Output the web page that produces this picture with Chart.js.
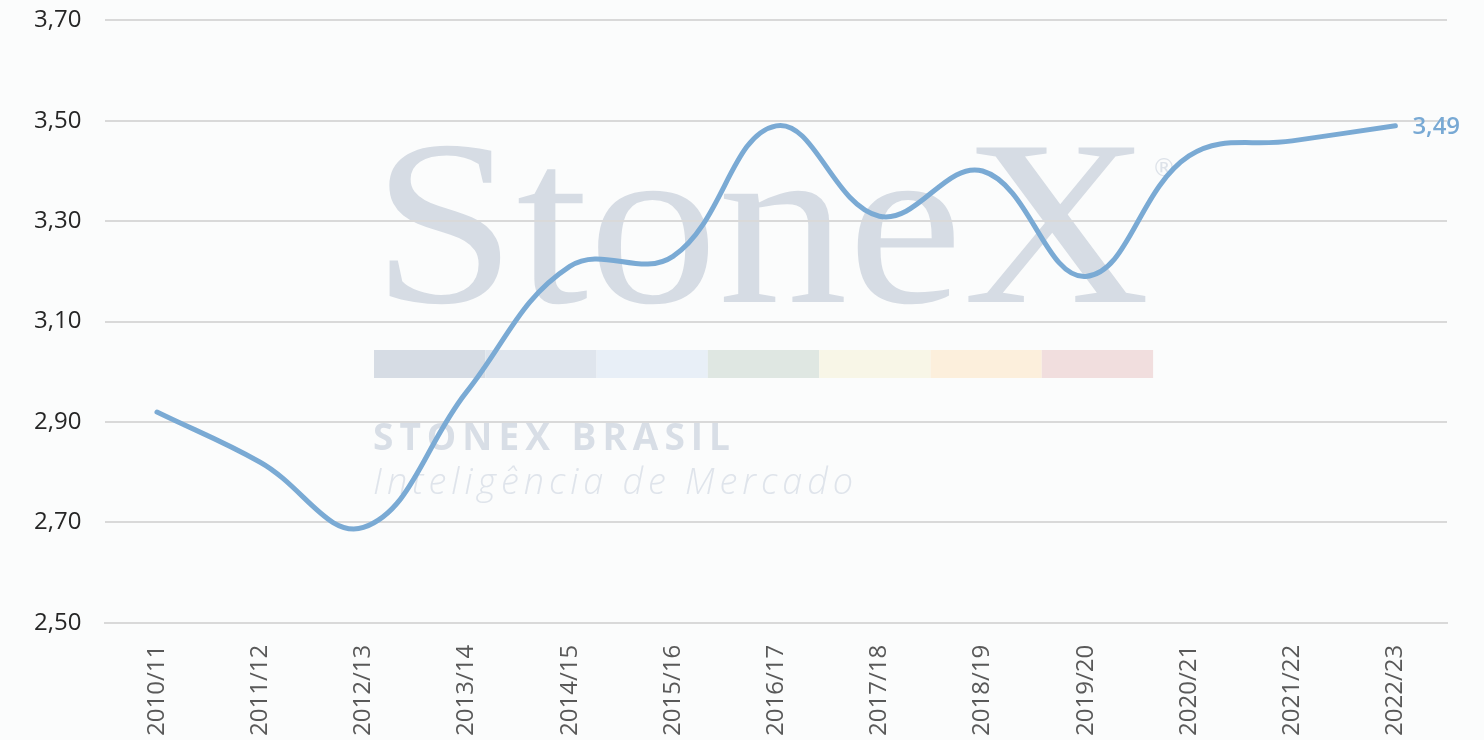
<!DOCTYPE html>
<html>
<head>
<meta charset="utf-8">
<script src="https://cdn.jsdelivr.net/npm/chart.js@4"></script>
<style>
  html, body { margin: 0; padding: 0; background: #fbfcfc; overflow: hidden; }
  #frame { width: 1484px; height: 740px; overflow: hidden; }
  #wrap { width: 1484px; height: 758px; margin-top: -18px; }
</style>
</head>
<body>
<div id="frame"><div id="wrap"><canvas id="chart"></canvas></div></div>
<script>
const safras = ['2010/11', '2011/12', '2012/13', '2013/14', '2014/15', '2015/16', '2016/17',
  '2017/18', '2018/19', '2019/20', '2020/21', '2021/22', '2022/23'];
const produtividade = [2.92, 2.82, 2.69, 2.96, 3.21, 3.23, 3.49, 3.31, 3.40, 3.19, 3.43, 3.46, 3.49];
const yMin = 2.5;
const yMax = 3.7;
const yStep = 0.2;

const fmt = v => v.toFixed(2).replace('.', ',');

// canvas is shifted up 18px inside the frame
const SHIFT = 18;

// squeeze/stretch text to a given width with letter spacing
function spacedText(ctx, txt, x, y, width) {
  ctx.letterSpacing = '0px';
  const w = ctx.measureText(txt).width;
  ctx.letterSpacing = ((width - w) / (txt.length - 1)) + 'px';
  ctx.fillText(txt, x, y);
  ctx.letterSpacing = '0px';
}

// background + logo watermark
const watermark = {
  id: 'watermark',
  beforeDraw(c) {
    const ctx = c.ctx;
    ctx.save();
    ctx.fillStyle = '#fbfcfc';
    ctx.fillRect(0, 0, c.width, c.height);
    ctx.translate(0, SHIFT);

    ctx.save();
    ctx.fillStyle = '#d6dce4';
    ctx.font = '236px "Liberation Serif", "DejaVu Serif", serif';
    ctx.textBaseline = 'alphabetic';
    const w = ctx.measureText('StoneX').width;
    ctx.translate(372, 302);
    ctx.scale(778 / w, 1);
    ctx.fillText('StoneX', 0, 0);
    ctx.restore();

    ctx.fillStyle = '#dde2e9';
    ctx.font = '24px "DejaVu Sans", sans-serif';
    ctx.fillText('®', 1152, 176);

    const barColors = ['#d6dce4', '#dfe5ed', '#e8eff7', '#dfe7e2', '#f8f6e7', '#fcefdc', '#f1dede'];
    barColors.forEach((col, i) => {
      ctx.fillStyle = col;
      ctx.fillRect(374 + i * 111.3, 350, 111.3, 28);
    });

    ctx.fillStyle = '#d8dee6';
    ctx.font = 'bold 37px "Open Sans", sans-serif';
    spacedText(ctx, 'STONEX BRASIL', 373, 450, 357);
    ctx.fillStyle = '#dfe4eb';
    ctx.font = 'italic 300 36px "Open Sans", sans-serif';
    spacedText(ctx, 'Inteligência de Mercado', 373, 494, 480);
    ctx.restore();
  }
};

// value label at the last point
const lastLabel = {
  id: 'lastLabel',
  afterDatasetsDraw(c) {
    const meta = c.getDatasetMeta(0);
    const pt = meta.data[meta.data.length - 1];
    const ctx = c.ctx;
    ctx.save();
    ctx.fillStyle = '#78a9d4';
    ctx.font = '600 24px "Open Sans", sans-serif';
    ctx.textBaseline = 'middle';
    ctx.fillText(fmt(produtividade[produtividade.length - 1]), pt.x + 17, pt.y + 1);
    ctx.restore();
  }
};

new Chart(document.getElementById('chart'), {
  type: 'line',
  data: {
    labels: safras,
    datasets: [{
      data: produtividade,
      borderColor: '#7aaad4',
      borderWidth: 5,
      tension: 0.4,
      pointRadius: 0,
      borderCapStyle: 'round',
      fill: false
    }]
  },
  options: {
    responsive: true,
    maintainAspectRatio: false,
    animation: false,
    layout: { padding: { top: 0, right: 37, left: 10, bottom: -10 } },
    plugins: { legend: { display: false }, tooltip: { enabled: false } },
    scales: {
      x: {
        offset: true,
        grid: { display: false },
        border: { color: '#d9d9d9', width: 2 },
        ticks: {
          autoSkip: false,
          minRotation: 90,
          maxRotation: 90,
          padding: 14,
          color: '#595959',
          font: { size: 24, family: '"Open Sans", sans-serif' }
        }
      },
      y: {
        min: yMin,
        max: yMax,
        border: { display: false },
        grid: { color: '#d9d9d9', lineWidth: 2, drawTicks: false },
        ticks: {
          stepSize: yStep,
          padding: 24,
          color: '#262626',
          font: { size: 24, family: '"Open Sans", sans-serif' },
          callback: v => fmt(v)
        }
      }
    }
  },
  plugins: [watermark, lastLabel]
});
</script>
</body>
</html>
